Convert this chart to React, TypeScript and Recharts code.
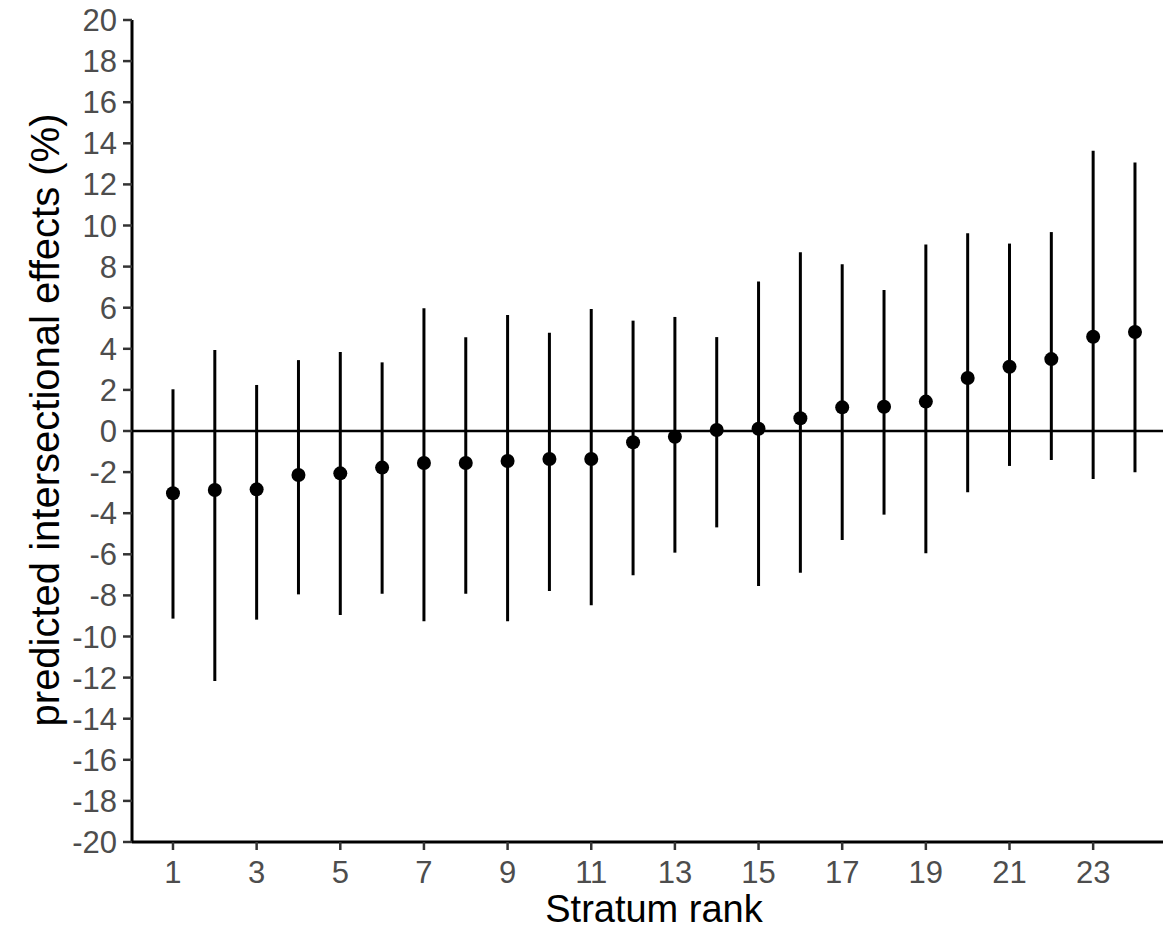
import React from "react";
import {
  ScatterChart,
  Scatter,
  XAxis,
  YAxis,
  ErrorBar,
  ReferenceLine,
} from "recharts";

const ranks = [1, 2, 3, 4, 5, 6, 7, 8, 9, 10, 11, 12, 13, 14, 15, 16, 17, 18, 19, 20, 21, 22, 23, 24];
const estimates = [-3.03, -2.87, -2.84, -2.14, -2.06, -1.78, -1.56, -1.56, -1.46, -1.36, -1.36, -0.55, -0.28, 0.05, 0.11, 0.62, 1.15, 1.18, 1.43, 2.58, 3.13, 3.5, 4.59, 4.82];
const upperCI = [2.03, 3.94, 2.24, 3.45, 3.85, 3.34, 5.97, 4.56, 5.64, 4.78, 5.94, 5.37, 5.55, 4.57, 7.28, 8.7, 8.11, 6.86, 9.07, 9.62, 9.12, 9.68, 13.64, 13.06];
const lowerCI = [-9.13, -12.17, -9.18, -7.95, -8.95, -7.92, -9.26, -7.92, -9.26, -7.79, -8.48, -7.02, -5.92, -4.69, -7.54, -6.9, -5.3, -4.07, -5.95, -2.98, -1.7, -1.41, -2.34, -2.01];

const xTicks = [1, 3, 5, 7, 9, 11, 13, 15, 17, 19, 21, 23];
const yTicks = [-20, -18, -16, -14, -12, -10, -8, -6, -4, -2, 0, 2, 4, 6, 8, 10, 12, 14, 16, 18, 20];

const xTitle = "Stratum rank";
const yTitle = "predicted intersectional effects (%)";

const data = ranks.map((r, i) => ({
  rank: r,
  est: estimates[i],
  err: [estimates[i] - lowerCI[i], upperCI[i] - estimates[i]],
}));

const FONT = "'Liberation Sans', Arial, sans-serif";
const tickStyle = { fill: "#4d4d4d", fontSize: 31, fontFamily: FONT };

const Dot = (props: any) => (
  <circle cx={props.cx} cy={props.cy} r={7} fill="#000" />
);

export default function App() {
  return (
    <div style={{ position: "absolute", left: 0, top: 0, background: "#fff" }}>
      <ScatterChart
        width={1163}
        height={933}
        margin={{ top: 20, right: 0, bottom: 0, left: 0 }}
      >
        <XAxis
          type="number"
          dataKey="rank"
          domain={[0.02, 24.67]}
          ticks={xTicks}
          interval={0}
          allowDataOverflow
          height={91}
          tick={tickStyle}
          tickSize={8}
          tickMargin={11}
          tickLine={{ stroke: "#333", strokeWidth: 2.5 }}
          axisLine={{ stroke: "#000", strokeWidth: 3 }}
          label={{
            content: () => (
              <text
                x={654}
                y={922}
                textAnchor="middle"
                fontSize={38}
                fontFamily={FONT}
                fill="#000"
              >
                {xTitle}
              </text>
            ),
          }}
        />
        <YAxis
          type="number"
          dataKey="est"
          domain={[-20, 20]}
          ticks={yTicks}
          interval={0}
          allowDataOverflow
          width={132}
          tick={tickStyle}
          tickSize={9}
          tickMargin={6}
          tickLine={{ stroke: "#333", strokeWidth: 2.5 }}
          axisLine={{ stroke: "#000", strokeWidth: 3 }}
          label={{
            content: () => (
              <text
                x={45}
                y={420}
                transform="rotate(-90 45 420)"
                textAnchor="middle"
                dominantBaseline="central"
                fontSize={40}
                fontFamily={FONT}
                fill="#000"
              >
                {yTitle}
              </text>
            ),
          }}
        />
        <ReferenceLine y={0} stroke="#000" strokeWidth={2.5} />
        <Scatter data={data} isAnimationActive={false} shape={<Dot />}>
          <ErrorBar
            dataKey="err"
            direction="y"
            width={0}
            stroke="#000"
            strokeWidth={3}
            isAnimationActive={false}
          />
        </Scatter>
      </ScatterChart>
    </div>
  );
}
